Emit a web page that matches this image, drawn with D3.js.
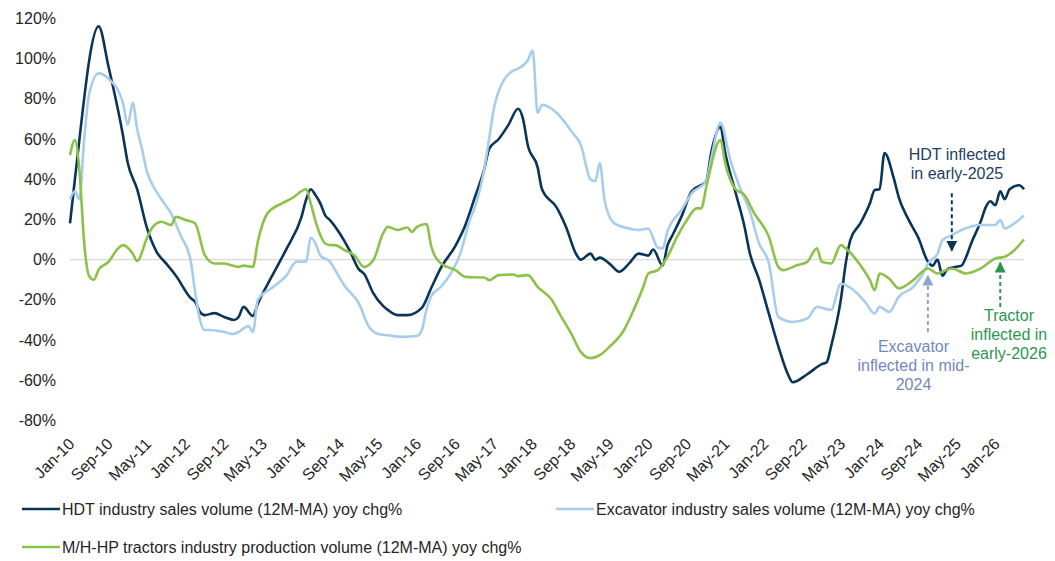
<!DOCTYPE html>
<html>
<head>
<meta charset="utf-8">
<script src="https://cdn.jsdelivr.net/npm/d3@7"></script>
<style>
  html, body { margin: 0; padding: 0; background: #fff; }
  #chart { width: 1055px; height: 561px; }
  text { font-family: "Liberation Sans", Arial, sans-serif; }
</style>
</head>
<body>
<div id="chart"></div>
<script>
// month labels on the x axis (every 8 months)
const tickLabels = ["Jan-10", "Sep-10", "May-11", "Jan-12", "Sep-12", "May-13", "Jan-14", "Sep-14",
    "May-15", "Jan-16", "Sep-16", "May-17", "Jan-18", "Sep-18", "May-19", "Jan-20", "Sep-20",
    "May-21", "Jan-22", "Sep-22", "May-23", "Jan-24", "Sep-24", "May-25", "Jan-26"];
const yTicks = [-80, -60, -40, -20, 0, 20, 40, 60, 80, 100, 120];

// HDT industry sales volume (12M-MA) yoy chg%
const hdtData = [
    ["Jan-10", 18], ["Feb-10", 40], ["Jul-10", 116], ["Sep-10", 96], ["Dec-10", 62], ["Jan-11", 48],
    ["Mar-11", 35], ["May-11", 16], ["Jul-11", 4], ["Sep-11", -2], ["Nov-11", -8], ["Feb-12", -19],
    ["Mar-12", -21], ["Apr-12", -26], ["May-12", -27.6], ["Jul-12", -26.6], ["Sep-12", -28.5],
    ["Nov-12", -30], ["Dec-12", -28.5], ["Jan-13", -23.5], ["Mar-13", -28], ["Apr-13", -22],
    ["Jul-13", -8], ["Oct-13", 5.6], ["Jan-14", 21], ["Feb-14", 30], ["Mar-14", 35], ["Apr-14", 32],
    ["May-14", 28], ["Jun-14", 22], ["Jul-14", 19.7], ["Sep-14", 13], ["Nov-14", 4.7], ["Jan-15", -5],
    ["Feb-15", -7], ["Apr-15", -16.8], ["Jun-15", -23], ["Jul-15", -25], ["Sep-15", -27.6],
    ["Nov-15", -27.6], ["Feb-16", -24], ["Apr-16", -14], ["Jun-16", -4], ["Sep-16", 7], ["Nov-16", 17],
    ["Jan-17", 31], ["Mar-17", 45], ["Apr-17", 55], ["Jun-17", 60], ["Aug-17", 67], ["Oct-17", 75],
    ["Nov-17", 70], ["Dec-17", 57], ["Feb-18", 46], ["Mar-18", 35], ["Jun-18", 26], ["Aug-18", 16],
    ["Oct-18", 3], ["Nov-18", 0], ["Jan-19", 3], ["Feb-19", 0], ["Mar-19", 1], ["May-19", -2],
    ["Jul-19", -6], ["Sep-19", -2], ["Nov-19", 3], ["Jan-20", 2], ["Feb-20", 5], ["Apr-20", -3],
    ["May-20", 7], ["Jun-20", 12], ["Aug-20", 22], ["Oct-20", 34], ["Jan-21", 39], ["Feb-21", 53],
    ["Apr-21", 66], ["May-21", 53], ["Jul-21", 34.6], ["Sep-21", 16], ["Oct-21", 4], ["Dec-21", -10],
    ["Feb-22", -27], ["Apr-22", -43], ["Jun-22", -57], ["Jul-22", -61], ["Oct-22", -57], ["Jan-23", -52],
    ["Feb-23", -51], ["Mar-23", -43], ["May-23", -20], ["Jun-23", -2], ["Jul-23", 10], ["Sep-23", 18],
    ["Nov-23", 28], ["Dec-23", 34.6], ["Jan-24", 35], ["Feb-24", 53], ["Apr-24", 40], ["May-24", 31],
    ["Jul-24", 20], ["Sep-24", 11], ["Nov-24", -1], ["Dec-24", -3], ["Jan-25", 0], ["Feb-25", -8],
    ["Mar-25", -5], ["Apr-25", -4], ["Jun-25", -3], ["Jul-25", 1.4], ["Aug-25", 8], ["Oct-25", 19],
    ["Nov-25", 26], ["Dec-25", 29], ["Jan-26", 27], ["Feb-26", 34], ["Mar-26", 30], ["Apr-26", 35],
    ["Jun-26", 37], ["Jul-26", 35]
];

// Excavator industry sales volume (12M-MA) yoy chg%
const excavatorData = [
    ["Jan-10", 30], ["Feb-10", 34], ["Mar-10", 30], ["Apr-10", 60], ["May-10", 82], ["Jul-10", 92.6],
    ["Sep-10", 90], ["Dec-10", 78], ["Jan-11", 67], ["Feb-11", 78], ["Mar-11", 65], ["Apr-11", 55],
    ["May-11", 44], ["Jun-11", 38], ["Aug-11", 30], ["Oct-11", 23], ["Dec-11", 12], ["Feb-12", 0],
    ["Mar-12", -16], ["Apr-12", -30], ["May-12", -35], ["Jun-12", -35], ["Sep-12", -36], ["Nov-12", -37],
    ["Dec-12", -36], ["Feb-13", -33], ["Mar-13", -36], ["Apr-13", -20], ["Jul-13", -14], ["Oct-13", -7.7],
    ["Dec-13", -1], ["Feb-14", -1], ["Mar-14", 11], ["Apr-14", 8], ["May-14", 2], ["Jul-14", -1],
    ["Aug-14", -5], ["Oct-14", -13], ["Jan-15", -22], ["Mar-15", -33], ["May-15", -37], ["Jul-15", -37.6],
    ["Oct-15", -38.4], ["Jan-16", -38], ["Feb-16", -35], ["Mar-16", -25], ["Apr-16", -18], ["Jun-16", -13.5],
    ["Aug-16", -7], ["Oct-16", 3], ["Dec-16", 20], ["Jan-17", 26], ["Mar-17", 45], ["Apr-17", 60],
    ["May-17", 75], ["Jul-17", 89], ["Sep-17", 94], ["Oct-17", 95], ["Dec-17", 99], ["Jan-18", 104],
    ["Feb-18", 73], ["Mar-18", 77], ["Jun-18", 73], ["Sep-18", 64], ["Nov-18", 57], ["Jan-19", 40],
    ["Feb-19", 39], ["Mar-19", 48], ["Apr-19", 29], ["Jun-19", 18], ["Sep-19", 15.5], ["Nov-19", 14.7],
    ["Jan-20", 15.5], ["Mar-20", 6], ["Apr-20", 5.6], ["May-20", 14], ["Aug-20", 25], ["Oct-20", 33],
    ["Jan-21", 39], ["Feb-21", 50], ["Apr-21", 68], ["Jun-21", 50], ["Aug-21", 36], ["Oct-21", 24.6],
    ["Dec-21", 8], ["Feb-22", -1.9], ["Apr-22", -28.5], ["Jul-22", -31], ["Oct-22", -29.3],
    ["Dec-22", -23.5], ["Mar-23", -25], ["May-23", -12], ["Jul-23", -14], ["Oct-23", -21],
    ["Dec-23", -26.8], ["Jan-24", -23.5], ["Mar-24", -26], ["May-24", -18.5], ["Aug-24", -13.5],
    ["Oct-24", -7], ["Nov-24", -2], ["Jan-25", 3], ["Feb-25", 9.7], ["Apr-25", 12.2], ["Jun-25", 14.7],
    ["Oct-25", 17.2], ["Jan-26", 17.2], ["Feb-26", 19.7], ["Mar-26", 15.5], ["May-26", 18], ["Jul-26", 22]
];

// M/H-HP tractors industry production volume (12M-MA) yoy chg%
const tractorData = [
    ["Jan-10", 52], ["Feb-10", 59.5], ["Mar-10", 45], ["Apr-10", 8], ["May-10", -8], ["Jun-10", -10],
    ["Jul-10", -5], ["Sep-10", -1.1], ["Nov-10", 5.6], ["Dec-10", 7.2], ["Feb-11", 3], ["Mar-11", -0.7],
    ["May-11", 10.5], ["Jun-11", 15.5], ["Aug-11", 18.8], ["Oct-11", 17.2], ["Nov-11", 21.3],
    ["Jan-12", 19.7], ["Mar-12", 18], ["May-12", 2.2], ["Jul-12", -1.9], ["Sep-12", -1.9],
    ["Dec-12", -3.6], ["Jan-13", -3], ["Mar-13", -3.6], ["Apr-13", 8.9], ["Jun-13", 23], ["Sep-13", 28],
    ["Nov-13", 30.4], ["Feb-14", 35], ["Mar-14", 28], ["Apr-14", 19], ["Jun-14", 8], ["Jul-14", 7.2],
    ["Aug-14", 7.2], ["Oct-14", 4.7], ["Dec-14", 2.2], ["Feb-15", -3.6], ["Apr-15", -0.2], ["Jun-15", 13],
    ["Jul-15", 16.3], ["Sep-15", 14.7], ["Nov-15", 16], ["Dec-15", 13.8], ["Jan-16", 16.3],
    ["Mar-16", 17.7], ["Apr-16", 6.4], ["Jun-16", -1.9], ["Sep-16", -5.2], ["Nov-16", -8.6],
    ["Mar-17", -8.9], ["Apr-17", -10.2], ["Jun-17", -7.7], ["Sep-17", -7.4], ["Oct-17", -8.2],
    ["Dec-17", -7.7], ["Feb-18", -13.5], ["May-18", -20], ["Jul-18", -28.5], ["Sep-18", -36.7],
    ["Nov-18", -45.9], ["Jan-19", -49], ["Mar-19", -47.5], ["May-19", -43.4], ["Aug-19", -35],
    ["Oct-19", -25], ["Dec-19", -13.5], ["Jan-20", -6.9], ["Mar-20", -5.2], ["May-20", 1.4],
    ["Jul-20", 11.3], ["Sep-20", 19.7], ["Nov-20", 25.5], ["Dec-20", 25.5], ["Jan-21", 36],
    ["Apr-21", 59.5], ["May-21", 48], ["Jul-21", 35.4], ["Sep-21", 32], ["Nov-21", 23], ["Feb-22", 11.3],
    ["Apr-22", -3.6], ["May-22", -5.2], ["Aug-22", -2.7], ["Oct-22", -1.1], ["Dec-22", 5.6],
    ["Jan-23", -1.1], ["Mar-23", -1.9], ["May-23", 7.2], ["Jun-23", 5.6], ["Sep-23", -2.7],
    ["Nov-23", -10.2], ["Dec-23", -15.2], ["Jan-24", -6.9], ["Mar-24", -9.4], ["May-24", -14.3],
    ["Aug-24", -10.2], ["Nov-24", -4.4], ["Jan-25", -6.9], ["Feb-25", -6], ["Apr-25", -4.4],
    ["Jul-25", -6.9], ["Oct-25", -4.4], ["Jan-26", 0.6], ["Mar-26", 1.4], ["May-26", 4.7], ["Jul-26", 10]
];

const seriesNames = [
    "HDT industry sales volume (12M-MA) yoy chg%",
    "Excavator industry sales volume (12M-MA) yoy chg%",
    "M/H-HP tractors industry production volume (12M-MA) yoy chg%"
];
const seriesColors = ["#0b3558", "#a8cdec", "#8cc24a"];

// annotation text and arrow points
const notes = [
    {lines: ["HDT inflected", "in early-2025"], date: "Apr-25", color: "#1d3e63", arrowColor: "#0b3558"},
    {lines: ["Excavator", "inflected in mid-", "2024"], date: "Nov-24", color: "#7488bb", arrowColor: "#8ea3d3"},
    {lines: ["Tractor", "inflected in", "early-2026"], date: "Feb-26", color: "#2c9650", arrowColor: "#2c9650"}
];

const parse = d3.timeParse("%b-%y");
const width = 1055, height = 561;

const svg = d3.select("#chart").append("svg")
    .attr("width", width)
    .attr("height", height);

const x = d3.scaleTime()
    .domain([parse("Jan-10"), parse("Jul-26")])
    .range([70, 1024]);
const y = d3.scaleLinear()
    .domain([-80, 120])
    .range([420.5, 18.3]);

// y axis labels
const yAxis = svg.append("g")
    .attr("transform", "translate(56,0)")
    .call(d3.axisLeft(y).tickValues(yTicks).tickSize(0).tickPadding(0).tickFormat(d => d + "%"));
yAxis.select(".domain").remove();
yAxis.selectAll("text")
    .style("font-family", "Liberation Sans, Arial, sans-serif")
    .style("font-size", "16px")
    .attr("fill", "#262626");

// zero line
svg.append("line")
    .attr("x1", x(parse("Jan-10")))
    .attr("x2", x(parse("Jul-26")))
    .attr("y1", y(0))
    .attr("y2", y(0))
    .attr("stroke", "#d9d9d9")
    .attr("stroke-width", 1.3);

// x axis labels, rotated
const xAxis = svg.append("g")
    .attr("transform", "translate(0,437)")
    .call(d3.axisBottom(x).tickValues(tickLabels.map(parse)).tickSize(0).tickPadding(0)
        .tickFormat(d3.timeFormat("%b-%y")));
xAxis.select(".domain").remove();
xAxis.selectAll("text")
    .style("font-family", "Liberation Sans, Arial, sans-serif")
    .style("font-size", "16px")
    .attr("fill", "#262626")
    .attr("y", 0)
    .attr("dy", "0.7em")
    .attr("x", 0)
    .attr("transform", "translate(-3,0) rotate(-45)")
    .style("text-anchor", "end");

const line = d3.line()
    .x(d => x(parse(d[0])))
    .y(d => y(d[1]))
    .curve(d3.curveMonotoneX);

[hdtData, excavatorData, tractorData].forEach(function (data, i) {
    svg.append("path")
        .datum(data)
        .attr("fill", "none")
        .attr("stroke", seriesColors[i])
        .attr("stroke-width", 2.6)
        .attr("stroke-linejoin", "round")
        .attr("d", line);
});

// arrows + notes
const defs = svg.append("defs");
notes.forEach(function (n, i) {
    defs.append("marker")
        .attr("id", "arrow" + i)
        .attr("viewBox", "0 0 10 10")
        .attr("refX", 9)
        .attr("refY", 5)
        .attr("markerWidth", 5.5)
        .attr("markerHeight", 5.5)
        .attr("orient", "auto")
        .append("path")
        .attr("d", "M0,0L10,5L0,10Z")
        .attr("fill", n.arrowColor);
});

const ax = notes.map(n => x(parse(n.date)));
// HDT: text above, arrow pointing down
svg.append("line")
    .attr("x1", ax[0]).attr("x2", ax[0])
    .attr("y1", y(33)).attr("y2", y(4.5))
    .attr("stroke", notes[0].arrowColor).attr("stroke-width", 2)
    .attr("stroke-dasharray", "4,3")
    .attr("marker-end", "url(#arrow0)");
// excavator: text below, arrow pointing up
svg.append("line")
    .attr("x1", ax[1]).attr("x2", ax[1])
    .attr("y1", y(-36)).attr("y2", y(-8))
    .attr("stroke", notes[1].arrowColor).attr("stroke-width", 2)
    .attr("stroke-dasharray", "4,3")
    .attr("marker-end", "url(#arrow1)");
// tractor
svg.append("line")
    .attr("x1", ax[2]).attr("x2", ax[2])
    .attr("y1", y(-23.5)).attr("y2", y(-1.5))
    .attr("stroke", notes[2].arrowColor).attr("stroke-width", 2)
    .attr("stroke-dasharray", "4,3")
    .attr("marker-end", "url(#arrow2)");

const noteAnchors = [[957, 160], [913.5, 352], [1009, 320.5]];
notes.forEach(function (n, i) {
    const t = svg.append("text")
        .attr("text-anchor", "middle")
        .attr("fill", n.color)
        .style("font-size", "16px");
    n.lines.forEach(function (s, j) {
        t.append("tspan")
            .attr("x", noteAnchors[i][0])
            .attr("y", noteAnchors[i][1] + j * 19)
            .text(s);
    });
});

// legend
const legendPos = [[22, 509], [556, 509], [22, 547]];
seriesNames.forEach(function (name, i) {
    const g = svg.append("g").attr("transform", "translate(" + legendPos[i][0] + "," + legendPos[i][1] + ")");
    g.append("line")
        .attr("x1", 0).attr("x2", 38)
        .attr("stroke", seriesColors[i])
        .attr("stroke-width", 2.6);
    g.append("text")
        .attr("x", 40)
        .attr("dy", "0.35em")
        .attr("fill", "#262626")
        .style("font-size", "16px")
        .text(name);
});
</script>
</body>
</html>
